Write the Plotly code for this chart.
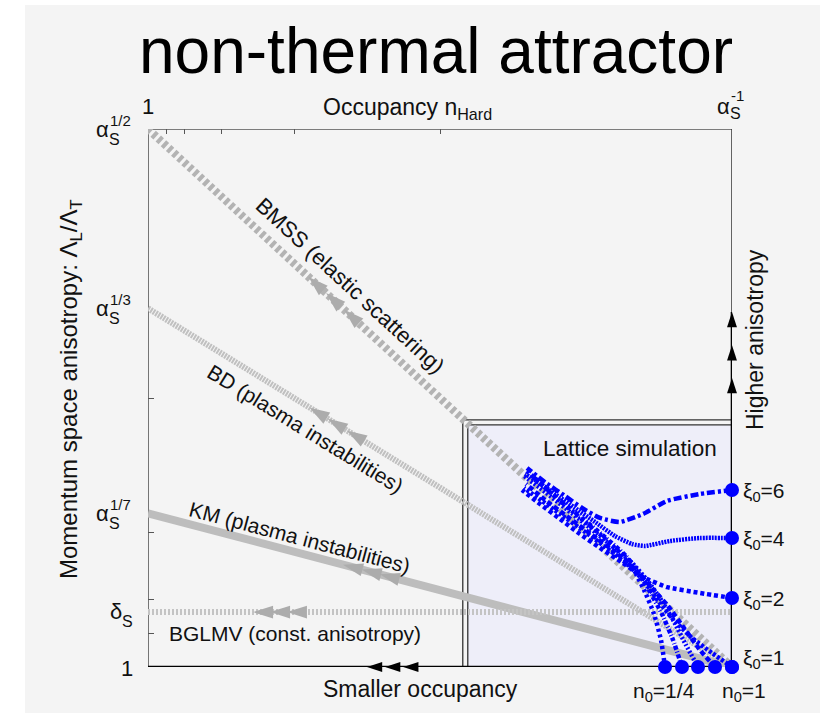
import math
import plotly.graph_objects as go

# ---------------------------------------------------------------- values
# x: occupancy exponent, n_Hard = alpha_s^(-x)   (0 -> n = 1, 1 -> n = 1/alpha_s)
# y: anisotropy exponent                        (0 -> 1,  1/2 -> alpha_s^(1/2))
title_text = "non-thermal attractor"

y_alpha_vals = [1 / 2, 1 / 3, 1 / 7]
y_alpha_sups = ["1/2", "1/3", "1/7"]
delta_val = 0.051

top_minor_ticks = [1 / 32, 1 / 16, 1 / 8, 1 / 4, 1 / 2]
left_minor_ticks = [1 / 32, 1 / 16, 1 / 8, 1 / 4]

# bottom-up scenarios: straight paths from (0, start) to (1, end)
scen_names = ["BMSS (elastic scattering)", "BD (plasma instabilities)",
              "KM (plasma instabilities)", "BGLMV (const. anisotropy)"]
scen_start_y = [1 / 2, 1 / 3, 1 / 7, 0.051]
scen_end_y = [0.0, 0.0, 0.0, 0.051]
scen_arrow_x = [[0.275, 0.305, 0.336],
                [0.277, 0.308, 0.341],
                [0.334, 0.366, 0.397],
                [0.180, 0.209, 0.238]]

# lattice region
lat_x0, lat_x1, lat_y1 = 0.539, 1.0, 0.2296

# lattice trajectories (start point first)
xi6_x = [1.000, 0.9452, 0.8887, 0.8476, 0.8082, 0.7740, 0.7432, 0.7140, 0.6815, 0.6490]
xi6_y = [0.1645, 0.1608, 0.1543, 0.1422, 0.1348, 0.1385, 0.1478, 0.1589, 0.1710, 0.1849]
xi4_x = [1.000, 0.9452, 0.8938, 0.8510, 0.8288, 0.7997, 0.7654, 0.7312, 0.6969, 0.6627, 0.6455]
xi4_y = [0.1199, 0.1199, 0.1171, 0.1125, 0.1143, 0.1217, 0.1348, 0.1478, 0.1608, 0.1738, 0.1794]
xi2_x = [1.000, 0.9452, 0.8887, 0.8476, 0.8134, 0.7740, 0.7397, 0.7055, 0.6712, 0.6404]
xi2_y = [0.0641, 0.0688, 0.0743, 0.0836, 0.0967, 0.1106, 0.1236, 0.1375, 0.1515, 0.1645]
xi1_x = [1.000, 0.9658, 0.9315, 0.8973, 0.8699, 0.8476, 0.8219, 0.7877, 0.7483, 0.7055, 0.6678, 0.6438]
xi1_y = [0.0, 0.0130, 0.0270, 0.0455, 0.0641, 0.0809, 0.0948, 0.1097, 0.1255, 0.1422, 0.1571, 0.1664]
n3_x = [0.9709, 0.9452, 0.9178, 0.8904, 0.8630, 0.8356, 0.7997, 0.7603, 0.7192, 0.6798, 0.6473]
n3_y = [0.0, 0.0158, 0.0362, 0.0567, 0.0734, 0.0901, 0.1069, 0.1227, 0.1394, 0.1552, 0.1701]
n2_x = [0.9418, 0.9212, 0.8990, 0.8767, 0.8545, 0.8288, 0.7945, 0.7568, 0.7140, 0.6712, 0.6438]
n2_y = [0.0, 0.0204, 0.0437, 0.0641, 0.0809, 0.0967, 0.1125, 0.1292, 0.1478, 0.1664, 0.1775]
n1_x = [0.9144, 0.8990, 0.8801, 0.8596, 0.8425, 0.8185, 0.7842, 0.7432, 0.6986, 0.6541]
n1_y = [0.0, 0.0251, 0.0493, 0.0697, 0.0864, 0.1032, 0.1199, 0.1385, 0.1580, 0.1794]
n0_x = [0.8853, 0.8784, 0.8664, 0.8510, 0.8356, 0.8116, 0.7774, 0.7363, 0.6918, 0.6490]
n0_y = [0.0, 0.0251, 0.0493, 0.0697, 0.0864, 0.1041, 0.1217, 0.1403, 0.1608, 0.1822]

xi_start_y = [0.1645, 0.1199, 0.0641, 0.0]
xi_labels = ["ξ<sub>0</sub>=6", "ξ<sub>0</sub>=4", "ξ<sub>0</sub>=2", "ξ<sub>0</sub>=1"]
n_start_x = [0.8853, 0.9144, 0.9418, 0.9709, 1.0]

# arrows on the outer axes
right_arrow_y = [0.2686, 0.299, 0.330]
bottom_arrow_x = [0.375, 0.406, 0.437]

# ---------------------------------------------------------------- layout
W, H = 820, 721
AX_L, AX_R, AX_T, AX_B = 148, 732, 129, 667
X_RANGE, Y_RANGE = [0.0, 1.0], [0.0, 0.5]
SX = (AX_R - AX_L) / (X_RANGE[1] - X_RANGE[0])
SY = (AX_B - AX_T) / (Y_RANGE[1] - Y_RANGE[0])
FONT = "Liberation Sans, Arial, Helvetica, sans-serif"
BLUE = "#0000ff"


def py(p):
    """pixel row -> paper fraction"""
    return 1 - p / H


def pxx(p):
    return p / W


def back_angle(x0, y0, x1, y1):
    """marker rotation pointing from (x1,y1) back towards (x0,y0)"""
    dxp = (x0 - x1) * SX
    dyp = -(y0 - y1) * SY
    return math.degrees(math.atan2(dxp, -dyp))


fig = go.Figure()

# scenario paths
scen_style = [dict(width=8, dash="4px,3px", color="#b3b3b3"),
              dict(width=6, dash="2px,1px", color="#c0c0c0"),
              dict(width=8, dash="solid", color="#bdbdbd"),
              dict(width=6, dash="2px,2px", color="#c4c4c4")]
for y0, y1, st, ax in zip(scen_start_y, scen_end_y, scen_style, scen_arrow_x):
    fig.add_trace(go.Scatter(x=[0, 1], y=[y0, y1], mode="lines", line=st,
                             hoverinfo="skip"))
    ay = [y0 + (y1 - y0) * a for a in ax]
    ang = back_angle(0, y0, 1, y1)
    fig.add_trace(go.Scatter(x=ax, y=ay, mode="markers", cliponaxis=False,
                             marker=dict(symbol="arrow", size=21, angle=ang,
                                         color="#acacac", line=dict(width=0)),
                             hoverinfo="skip"))

# lattice trajectories
traj = [(xi6_x, xi6_y, "8px,3px,3px,3px"),
        (xi4_x, xi4_y, "2px,1px"),
        (xi2_x, xi2_y, "4px,3px"),
        (xi1_x, xi1_y, "3px,2px"),
        (n3_x, n3_y, "5px,3px"),
        (n2_x, n2_y, "2px,2px"),
        (n1_x, n1_y, "4px,2px,1px,2px"),
        (n0_x, n0_y, "3px,3px")]
for tx, ty, d in traj:
    fig.add_trace(go.Scatter(x=tx, y=ty, mode="lines",
                             line=dict(color=BLUE, width=4.5, dash=d, shape="spline",
                                       smoothing=0.5),
                             hoverinfo="skip"))

fig.add_trace(go.Scatter(x=[1.0] * len(xi_start_y), y=xi_start_y, mode="markers",
                         cliponaxis=False, marker=dict(color=BLUE, size=14),
                         hoverinfo="skip"))
fig.add_trace(go.Scatter(x=n_start_x, y=[0.0] * len(n_start_x), mode="markers",
                         cliponaxis=False, marker=dict(color=BLUE, size=14),
                         hoverinfo="skip"))

# outer-axis arrows
fig.add_trace(go.Scatter(x=[1.0] * 3, y=right_arrow_y, mode="markers", cliponaxis=False,
                         marker=dict(symbol="arrow", size=16, angle=0, color="black",
                                     line=dict(width=0)), hoverinfo="skip"))
fig.add_trace(go.Scatter(x=bottom_arrow_x, y=[0.0] * 3, mode="markers", cliponaxis=False,
                         marker=dict(symbol="arrow", size=16, angle=270, color="black",
                                     line=dict(width=0)), hoverinfo="skip"))

shapes = [
    # panel background
    dict(type="rect", xref="paper", yref="paper", x0=pxx(25), x1=1, y0=py(713), y1=py(5),
         fillcolor="#f4f4f4", line=dict(width=0), layer="below"),
    # lattice box (double frame)
    dict(type="rect", xref="x", yref="y", x0=lat_x0, x1=lat_x1, y0=0, y1=lat_y1,
         line=dict(color="#333333", width=1.3), layer="below"),
    dict(type="rect", xref="x", yref="y", x0=lat_x0 + 5 / SX, x1=lat_x1, y0=0,
         y1=lat_y1 - 5 / SY, fillcolor="#eeeef9",
         line=dict(color="#333333", width=1.3), layer="below"),
    # frame
    dict(type="line", xref="x", yref="y", x0=0, x1=1, y0=0.5, y1=0.5,
         line=dict(color="#555555", width=1.6), layer="below"),
    dict(type="line", xref="x", yref="y", x0=0, x1=0, y0=0, y1=0.5,
         line=dict(color="#555555", width=1.6), layer="below"),
    dict(type="line", xref="x", yref="y", x0=1, x1=1, y0=0, y1=0.5,
         line=dict(color="#333333", width=1.5), layer="below"),
    dict(type="line", xref="x", yref="y", x0=1, x1=1, y0=0, y1=max(right_arrow_y),
         line=dict(color="black", width=2.6), layer="below"),
    dict(type="line", xref="x", yref="y", x0=0, x1=1, y0=0, y1=0,
         line=dict(color="black", width=2.6), layer="below"),
]

ann = []


def text(x, y, s, size=22, xref="paper", yref="paper", xanchor="center",
         yanchor="middle", angle=0, xshift=0, yshift=0, color="#111111"):
    ann.append(dict(x=x, y=y, xref=xref, yref=yref, text=s, showarrow=False,
                    xanchor=xanchor, yanchor=yanchor, textangle=angle,
                    xshift=xshift, yshift=yshift, borderpad=0, borderwidth=0,
                    font=dict(family=FONT, size=size, color=color)))


def alpha_label(x, y, xref, yref, sup, dx, dy=0, sub_dy=-10, sup_dy=9):
    text(x, y, "α", 22, xref, yref, "right", xshift=dx, yshift=dy)
    text(x, y, "S", 16, xref, yref, "left", xshift=dx, yshift=dy + sub_dy)
    text(x, y, sup, 15, xref, yref, "left", xshift=dx + 1, yshift=dy + sup_dy)


# title
text(pxx(436), py(51), title_text, 64, color="#000000")

# left tick labels
for v, s in zip(y_alpha_vals, y_alpha_sups):
    alpha_label(pxx(AX_L), v, "paper", "y", s, dx=-39)
text(pxx(AX_L), delta_val, "δ", 22, "paper", "y", "right", xshift=-26, yshift=1)
text(pxx(AX_L), delta_val, "S", 16, "paper", "y", "left", xshift=-26, yshift=-9)
text(pxx(AX_L), 0, "1", 22, "paper", "y", "right", xshift=-15, yshift=-1)

# top tick labels
text(0, py(107), "1", 22, "x", "paper")
alpha_label(1, py(107), "x", "paper", "-1", dx=-2, sub_dy=-7, sup_dy=11)
text(pxx(323), py(109), "Occupancy n<sub>Hard</sub>", 23, xanchor="left")

# axis titles
text(pxx(70), py(389), "Momentum space anisotropy: Λ<sub>L</sub>/Λ<sub>T</sub>", 24,
     angle=-90)
text(pxx(755), py(340), "Higher anisotropy", 23, angle=-90)
text(pxx(323), py(689), "Smaller occupancy", 23, xanchor="left")

# scenario labels
scen_label_xy = [(0.346, 0.355), (0.269, 0.222), (0.260, 0.1208), (0.252, 0.0307)]
scen_label_size = [22, 21, 21, 21]
for name, (lx, ly), y0, y1, fs in zip(scen_names, scen_label_xy, scen_start_y,
                                      scen_end_y, scen_label_size):
    ang = math.degrees(math.atan2((y0 - y1) * SY, SX))
    text(lx, ly, name, fs, "x", "y", angle=ang)

# lattice labels
text(pxx(630), py(449), "Lattice simulation", 22.5)
for v, s in zip(xi_start_y, xi_labels):
    text(1, v, s, 21, "x", "y", "left", xshift=11, yshift=-2 + (10 if v == 0 else 0))
text(pxx(633), py(692), "n<sub>0</sub>=1/4", 21, xanchor="left")
text(pxx(722), py(692), "n<sub>0</sub>=1", 21, xanchor="left")

fig.update_layout(
    width=W, height=H, margin=dict(l=0, r=0, t=0, b=0),
    paper_bgcolor="white", plot_bgcolor="rgba(0,0,0,0)",
    showlegend=False, shapes=shapes, annotations=ann,
    font=dict(family=FONT),
    xaxis=dict(domain=[AX_L / W, AX_R / W], range=X_RANGE, side="top",
               showgrid=False, zeroline=False, showline=False,
               ticks="inside", tickvals=top_minor_ticks, ticklen=5, tickwidth=1.2,
               tickcolor="#555555", showticklabels=False, fixedrange=True),
    yaxis=dict(domain=[1 - AX_B / H, 1 - AX_T / H], range=Y_RANGE,
               showgrid=False, zeroline=False, showline=False,
               ticks="inside", tickvals=left_minor_ticks, ticklen=6, tickwidth=1.2,
               tickcolor="#555555", showticklabels=False, fixedrange=True),
)

fig.write_html("out.html")
